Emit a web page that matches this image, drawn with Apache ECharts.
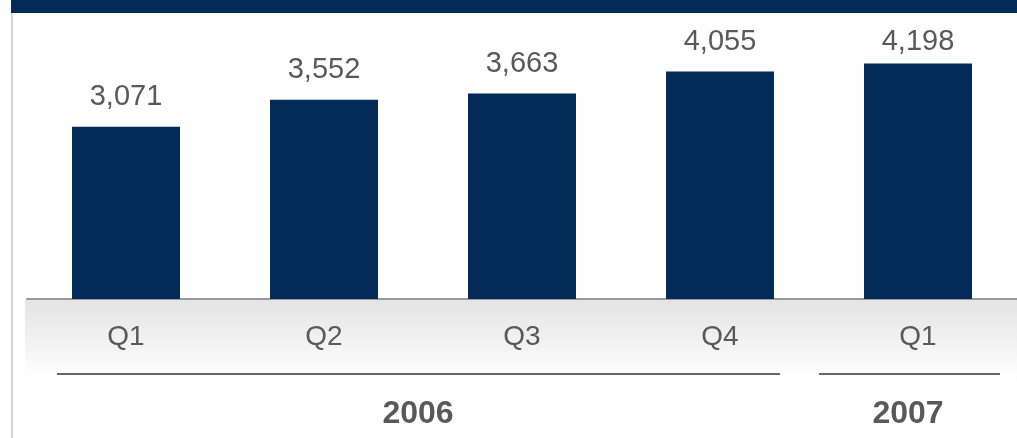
<!DOCTYPE html>
<html>
<head>
<meta charset="utf-8">
<script src="https://cdn.jsdelivr.net/npm/echarts@6/dist/echarts.min.js"></script>
<style>
  html, body { margin: 0; padding: 0; background: #fff; }
  #chart { width: 1017px; height: 438px; }
</style>
</head>
<body>
<div id="chart"></div>
<script>
// Quarterly values
const categories = ['Q1', 'Q2', 'Q3', 'Q4', 'Q1'];
const values = [3071, 3552, 3663, 4055, 4198];
const years = ['2006', '2007'];

const navy = '#022c57';
const textGrey = '#595959';
const fontFamily = '"Liberation Sans", Arial, sans-serif';

// the last label sits a little closer to its bar to stay clear of the header band
const barData = values.map((v, i) => (
  i === values.length - 1 ? { value: v, label: { distance: 7 } } : v
));

const chart = echarts.init(document.getElementById('chart'));

chart.setOption({
  animation: false,
  backgroundColor: '#ffffff',
  grid: { left: 27, right: -1, top: 18.5, bottom: 139 },
  xAxis: {
    type: 'category',
    data: categories,
    axisLine: { lineStyle: { color: '#9a9a9a', width: 2 } },
    axisTick: { show: false },
    axisLabel: {
      color: textGrey,
      fontFamily: fontFamily,
      fontSize: 28,
      lineHeight: 28,
      margin: 24
    }
  },
  yAxis: {
    type: 'value',
    min: 0,
    max: 5000,
    show: false,
    splitLine: { show: false }
  },
  series: [{
    type: 'bar',
    data: barData,
    barWidth: 108,
    itemStyle: { color: navy },
    label: {
      show: true,
      position: 'top',
      distance: 15,
      color: textGrey,
      fontFamily: fontFamily,
      fontSize: 29,
      lineHeight: 29,
      formatter: p => p.value.toLocaleString('en-US')
    },
    z: 3
  }],
  graphic: [
    // header band
    { type: 'rect', shape: { x: 11, y: 0, width: 1006, height: 13 }, style: { fill: '#012c58' }, z: 10 },
    // left frame line
    { type: 'rect', shape: { x: 11, y: 13, width: 2, height: 425 }, style: { fill: '#d4d4d4' }, z: 10 },
    // shaded category band
    {
      type: 'rect',
      shape: { x: 25, y: 300, width: 992, height: 80 },
      style: {
        fill: new echarts.graphic.LinearGradient(0, 0, 0, 1, [
          { offset: 0, color: '#e4e4e4' },
          { offset: 1, color: '#ffffff' }
        ])
      },
      z: -1
    },
    // year group rules
    { type: 'rect', shape: { x: 57, y: 373, width: 723, height: 2 }, style: { fill: '#666666' }, z: 10 },
    { type: 'rect', shape: { x: 819, y: 373, width: 181, height: 2 }, style: { fill: '#666666' }, z: 10 },
    // year labels
    {
      type: 'text', x: 418, y: 414, z: 10,
      style: {
        text: years[0], fill: textGrey, align: 'center', verticalAlign: 'middle',
        font: 'bold 32px ' + fontFamily
      }
    },
    {
      type: 'text', x: 908, y: 414, z: 10,
      style: {
        text: years[1], fill: textGrey, align: 'center', verticalAlign: 'middle',
        font: 'bold 32px ' + fontFamily
      }
    }
  ]
});
</script>
</body>
</html>
